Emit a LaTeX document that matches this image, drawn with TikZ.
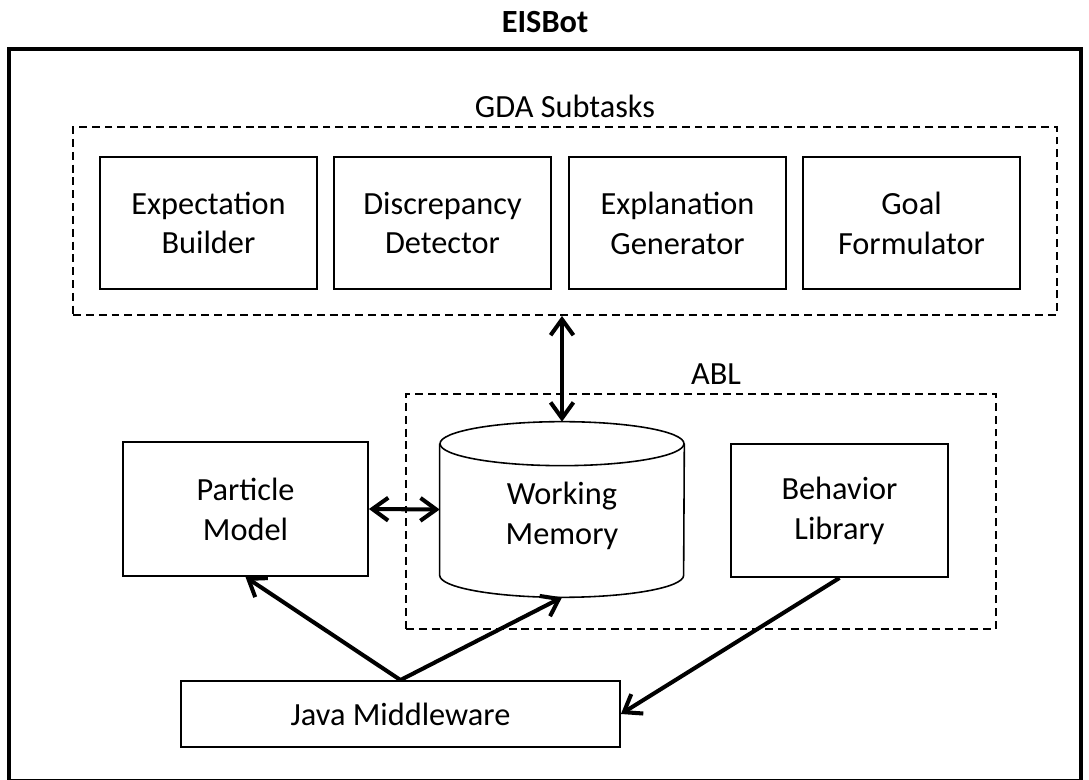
\documentclass[tikz,border=0pt]{standalone}
\usepackage{fontspec}
\setmainfont{Carlito}
\usetikzlibrary{%
  arrows.meta}
\tikzset {>={Straight Barb[length=9pt,width=13pt]}}
\newcommand{\boxfont}{\fontsize{18.4}{22.7}\selectfont}
\tikzset{
  subtask/.style={draw,line width=1.1pt,align=center,inner sep=0pt},
  group/.style={draw,line width=1.1pt,dash pattern=on 4.5pt off 2.8pt,inner sep=0pt},
  store/.style={line width=0.9pt},
  link/.style={line width=2.3pt},
}

\begin{document}
\begin{tikzpicture}[x=0.02cm,y=-0.02cm,every node/.append style={font=\boxfont}]
\useasboundingbox (0,0) rectangle (1089,780);
\draw[line width=2.3pt] (9,49) rectangle (1081,781);
\node[font=\boxfont\bfseries] (title) at (545,22) {EISBot};

% GDA subtasks
\node[group,minimum width=19.68cm,minimum height=3.76cm] (gda) at (565,221) {};
\node (gdatitle) at (565,106) {GDA Subtasks};
\node[subtask,minimum width=4.34cm,minimum height=2.64cm] (eb) at (208.5,223) {Expectation\\Builder};
\node[subtask,minimum width=4.34cm,minimum height=2.64cm] (dd) at (442.5,223) {Discrepancy\\Detector};
\node[subtask,minimum width=4.34cm,minimum height=2.64cm] (eg) at (677.5,223) {Explanation\\Generator};
\node[subtask,minimum width=4.34cm,minimum height=2.64cm] (gf) at (911.5,223) {Goal\\Formulator};

% ABL
\node[group,minimum width=11.8cm,minimum height=4.7cm] (abl) at (701,511.5) {};
\node (abltitle) at (716,374) {ABL};
\node[minimum width=4.88cm,minimum height=3.5cm,inner sep=0pt] (wm) at (562,509.5) {};
\draw[store] ([yshift=-0.44cm]wm.north west) -- ([yshift=0.44cm]wm.south west)
  arc[start angle=180,end angle=360,x radius=2.44cm,y radius=0.44cm]
  -- ([yshift=-0.44cm]wm.north east);
\draw[store] ([yshift=-0.44cm]wm.north) ellipse[x radius=2.44cm,y radius=0.44cm];
\node[align=center] (wmtext) at (562,516) {Working\\Memory};
\node[subtask,minimum width=4.34cm,minimum height=2.66cm] (bl) at (839.5,510.5) {Behavior\\Library};

\node[subtask,minimum width=4.9cm,minimum height=2.68cm] (pm) at (245.5,509) {Particle\\Model};
\node[subtask,minimum width=8.78cm,minimum height=1.32cm] (jm) at (400.5,714) {Java Middleware};

% connections
\draw[link,<->] (wm.north |- gda.south) -- (wm.north);
\draw[link,<->] (pm.east) -- (wm.west);
\draw[link,->] (jm.north) -- (pm.south);
\draw[link,->] (jm.north) -- (wm.south);
\draw[link,->] (bl.south) -- (jm.east);
\end{tikzpicture}
\end{document}
